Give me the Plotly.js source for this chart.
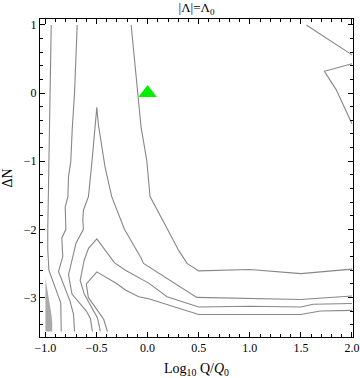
<!DOCTYPE html>
<html>
<head>
<meta charset="utf-8">
<script src="https://cdn.plot.ly/plotly-3.0.1.min.js"></script>
<style>
  body { margin: 0; background: #fff; }
  #plotContainer { width: 360px; height: 378px; }
</style>
</head>
<body>
<div id="plotContainer"></div>
<script>
"use strict";

// contour polylines (x = log10 Q/Q0, y = dN)
const lineA_x = [-0.943, -0.955, -0.962, -0.970, -0.977, -0.977, -0.966, -0.850, -0.845];
const lineA_y = [1.0, 0.0, -0.5, -1.0, -2.0, -2.3, -2.6, -3.08, -3.5];

const lineB_x = [-0.689, -0.715, -0.738, -0.752, -0.774, -0.780, -0.806, -0.800, -0.840, -0.830, -0.872, -0.760, -0.725, -0.715];
const lineB_y = [1.0, 0.0, -0.54, -1.01, -1.23, -1.52, -1.67, -2.0, -2.13, -2.4, -2.62, -3.05, -3.25, -3.5];

// outer "peak" line, vertex near (-0.5, -0.2)
const lineC_x = [-0.540, -0.560, -0.600, -0.740, -0.774, -0.740, -0.700, -0.628, -0.634, -0.628, -0.579, -0.546, -0.513, -0.497,
                 -0.481, -0.415, -0.351, -0.227, -0.064, -0.040, 0.481, 1.0, 1.494, 2.0];
const lineC_y = [-3.5, -3.31, -3.2, -2.95, -2.67, -2.43, -2.2, -2.0, -1.86, -1.72, -1.52, -1.03, -0.51, -0.21,
                 -0.47, -1.1, -1.52, -2.0, -2.42, -2.5, -3.0, -3.01, -3.03, -2.98];

const lineD_x = [-0.161, -0.090, -0.064, -0.009, 0.024, 0.174, 0.304, 0.386, 0.5, 1.0, 1.5, 2.0];
const lineD_y = [1.0, -0.05, -0.5, -0.98, -1.52, -1.94, -2.31, -2.5, -2.61, -2.59, -2.65, -2.585];

const lineE_x = [-0.463, -0.490, -0.620, -0.660, -0.620, -0.578, -0.497, -0.325, -0.217, 0.011, 0.190, 0.5, 1.0, 1.5, 1.62, 2.0];
const lineE_y = [-3.5, -3.3, -2.95, -2.75, -2.45, -2.28, -2.14, -2.49, -2.6, -2.79, -2.99, -3.14, -3.13, -3.14, -3.1, -3.09];

const lineF_x = [-0.393, -0.430, -0.580, -0.600, -0.497, -0.300, -0.217, -0.087, 0.011, 0.5, 1.0, 1.5, 1.69, 2.0];
const lineF_y = [-3.5, -3.32, -3.0, -2.8, -2.625, -2.8, -2.89, -2.99, -3.02, -3.25, -3.25, -3.25, -3.2, -3.19];

// top right corner
const lineG_x = [1.553, 2.0];
const lineG_y = [1.0, 0.56];
const lineH_x = [2.0, 1.73, 1.845, 2.0];
const lineH_y = [0.43, 0.32, 0.05, -0.45];

// small grey filled region at bottom left
const fill_x = [-1.0, -0.99, -0.98, -0.97, -0.96, -0.95, -0.94, -0.933, -0.933, -1.0];
const fill_y = [-2.72, -2.8, -2.88, -2.97, -3.06, -3.15, -3.26, -3.38, -3.5, -3.5];

// marker
const point_x = [0];
const point_y = [0];

const lineColor = 'rgb(135,135,135)';
const serif = 'Liberation Serif, Times New Roman, serif';

function contourTrace(x, y) {
    return {
        x: x, y: y,
        type: 'scatter',
        mode: 'lines',
        line: { color: lineColor, width: 1.1 },
        hoverinfo: 'skip',
        showlegend: false,
    };
}

var plotData = [
    {
        x: fill_x, y: fill_y,
        type: 'scatter', mode: 'lines',
        fill: 'toself', fillcolor: 'rgb(170,170,170)',
        line: { width: 0, color: 'rgb(170,170,170)' },
        hoverinfo: 'skip', showlegend: false,
    },
    contourTrace(lineA_x, lineA_y),
    contourTrace(lineB_x, lineB_y),
    contourTrace(lineC_x, lineC_y),
    contourTrace(lineD_x, lineD_y),
    contourTrace(lineE_x, lineE_y),
    contourTrace(lineF_x, lineF_y),
    contourTrace(lineG_x, lineG_y),
    contourTrace(lineH_x, lineH_y),
    {
        x: point_x, y: point_y,
        type: 'scatter', mode: 'markers',
        marker: { symbol: 'triangle-up', size: 16, color: 'rgb(0,240,0)', line: { width: 0 } },
        showlegend: false,
    },
];

var axisCommon = {
    showgrid: false,
    zeroline: false,
    showline: true,
    mirror: 'ticks',
    linecolor: 'black',
    linewidth: 1,
    ticks: 'inside',
    ticklen: 5,
    tickwidth: 1,
    tickcolor: 'black',
    tickfont: { family: serif, size: 12, color: 'black' },
};

var layout = {
    width: 360,
    height: 378,
    margin: { l: 40, r: 7, t: 19, b: 41 },
    paper_bgcolor: 'white',
    plot_bgcolor: 'white',
    font: { family: serif, color: 'black' },
    title: {
        text: '|Λ|=Λ<sub>0</sub>',
        font: { family: serif, size: 13, color: 'black' },
        xref: 'paper', x: 0.5,
        yref: 'container', y: 0.98, yanchor: 'middle',
    },
    xaxis: Object.assign({}, axisCommon, {
        range: [-1.053, 2.01],
        tick0: -1, dtick: 0.5,
        tickformat: '.1f',
        minor: { ticks: 'inside', ticklen: 3, tick0: -1, dtick: 0.1, tickcolor: 'black', showgrid: false },
        title: { text: 'Log<sub>10</sub> Q/<i>Q</i><sub>0</sub>', font: { family: serif, size: 14, color: 'black' }, standoff: 8 },
    }),
    yaxis: Object.assign({}, axisCommon, {
        range: [-3.581, 1.087],
        tick0: 0, dtick: 1,
        minor: { ticks: 'inside', ticklen: 3, tick0: 0, dtick: 0.2, tickcolor: 'black', showgrid: false },
        title: { text: 'ΔN', font: { family: serif, size: 14, color: 'black' } },
    }),
};

Plotly.newPlot('plotContainer', plotData, layout, { displayModeBar: false, staticPlot: true });
</script>
</body>
</html>
